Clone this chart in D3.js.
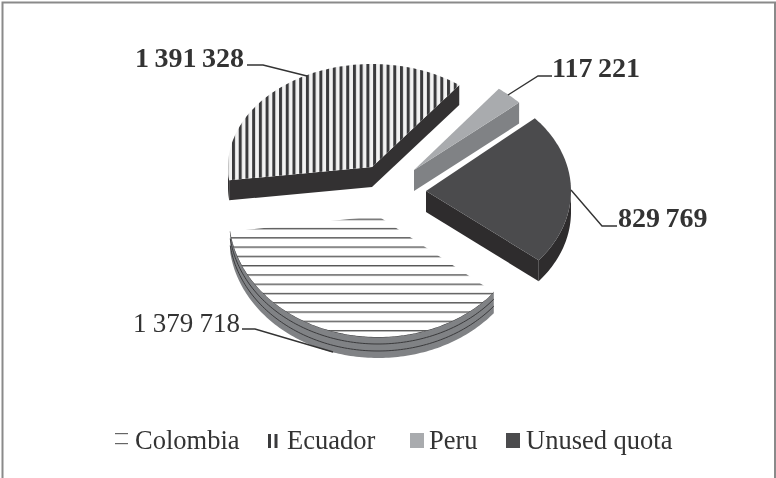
<!DOCTYPE html>
<html>
<head>
<meta charset="utf-8">
<script src="https://cdn.jsdelivr.net/npm/d3@7"></script>
<style>
html,body{margin:0;padding:0;background:#fff;}
svg{display:block;filter:blur(0.55px);}
text{font-family:"Liberation Serif",serif;fill:#333;}
</style>
</head>
<body>
<script>
// ---- data ----
const categories = ["Colombia", "Ecuador", "Peru", "Unused quota"];
const values = [1379718, 1391328, 117221, 829769];
const valueLabels = ["1 379 718", "1 391 328", "117 221", "829 769"];
const labelBold = [false, true, true, true];

// ---- layout ----
const W = 776, H = 478;
const firstSliceDeg = 129;
const depth = [21, 20, 21, 21];
const sliceCx = [378, 372, 414, 426];
const sliceCy = [216, 167, 170, 191];
const sliceRx = [149, 144, 140, 145];
const sliceRy = [121, 103, 102, 110];
const topFills = ["url(#hatchH)", "url(#hatchV)", "#a9abae", "#4b4b4d"];
const sideFills = ["#808285", "#333132", "#808285", "#2e2c2d"];
const drawOrder = [1, 2, 3, 0];
// which radial edges show a wall: [start edge, end edge]
const radialWalls = [[false, false], [true, true], [false, true], [false, true]];
const labelX = [133, 135, 552, 618];
const labelY = [332, 67, 77, 227];
const labelSize = [27, 28, 28, 28];
const labelWordSpacing = [-0.5, -1.5, -1.5, -1.5];
const leaders = [
  [[242, 329], [255, 329], [333, 352]],
  [[247, 65], [263, 65], [307, 76]],
  [[552, 76], [538, 76], [508, 95]],
  [[617, 226], [602, 226], [571, 190]]
];
const legendTextX = [135, 287, 429, 526];
const legendMarkX = [115, 268, 410, 506];
const legendBaseline = 449;

const svg = d3.select("body").append("svg").attr("width", W).attr("height", H);
const defs = svg.append("defs");
const ph = defs.append("pattern").attr("id", "hatchH").attr("patternUnits", "userSpaceOnUse")
  .attr("x", 0).attr("y", 218.6).attr("width", 40).attr("height", 9.28);
ph.append("rect").attr("width", 40).attr("height", 9.28).attr("fill", "#fff");
ph.append("rect").attr("width", 40).attr("height", 1.4).attr("fill", "#555");
const pv = defs.append("pattern").attr("id", "hatchV").attr("patternUnits", "userSpaceOnUse")
  .attr("x", 232).attr("y", 0).attr("width", 6.72).attr("height", 40);
pv.append("rect").attr("width", 6.72).attr("height", 40).attr("fill", "#f2f2f2");
pv.append("rect").attr("width", 3).attr("height", 40).attr("fill", "#3a3a3c");

svg.append("rect").attr("width", W).attr("height", H).attr("fill", "#fff");
const line = d3.line();
svg.append("path").attr("d", line([[775, H], [775, 2.5], [2.5, 2.5], [2.5, H]]))
  .attr("fill", "none").attr("stroke", "#8a8a8a").attr("stroke-width", 2);

const rad = d3.scaleLinear().domain([0, 360]).range([0, 2 * Math.PI]);
const pie = d3.pie().sort(null).startAngle(rad(firstSliceDeg)).endAngle(rad(firstSliceDeg + 360));
const arcs = pie(values);

function pt(i, a, dz) {
  return [sliceCx[i] + sliceRx[i] * Math.sin(a), sliceCy[i] - sliceRy[i] * Math.cos(a) + (dz || 0)];
}
function samples(a0, a1) {
  const n = Math.max(2, Math.ceil((a1 - a0) / 0.02));
  return d3.range(n + 1).map(k => a0 + (a1 - a0) * k / n);
}
const apex = (i, dz) => [sliceCx[i], sliceCy[i] + (dz || 0)];

drawOrder.forEach(i => {
  const d = arcs[i], z = depth[i], g = svg.append("g");
  const s = d.startAngle, e = d.endAngle;
  // radial walls that face the viewer
  [s, e].forEach((a, k) => {
    if (radialWalls[i][k]) {
      g.append("path").attr("fill", sideFills[i])
        .attr("d", line([apex(i), pt(i, a), pt(i, a, z), apex(i, z)]) + "Z");
    }
  });
  // outer wall: only the part of the rim on the near side (cos < 0)
  const ss = samples(s, e).filter(a => Math.cos(a) <= 0);
  if (ss.length > 1) {
    g.append("path").attr("fill", sideFills[i])
      .attr("d", line(ss.map(a => pt(i, a)).concat(ss.slice().reverse().map(a => pt(i, a, z)))) + "Z");
    if (i === 0) {
      [0, 7, 14].forEach(o => g.append("path").attr("fill", "none").attr("stroke", "#3a3a3c")
        .attr("stroke-width", 1).attr("d", line(ss.map(a => pt(i, a, o)))));
    }
  }
  // top face
  g.append("path").attr("fill", topFills[i])
    .attr("d", line([apex(i)].concat(samples(s, e).map(a => pt(i, a)))) + "Z");
});

// leader lines
leaders.forEach(l => svg.append("path").attr("d", line(l)).attr("fill", "none")
  .attr("stroke", "#333").attr("stroke-width", 1.4));

// value labels
valueLabels.forEach((t, i) => svg.append("text").attr("x", labelX[i]).attr("y", labelY[i])
  .attr("font-size", labelSize[i]).attr("word-spacing", labelWordSpacing[i])
  .attr("font-weight", labelBold[i] ? "bold" : "normal").text(t));

// legend
categories.forEach((c, i) => {
  svg.append("text").attr("x", legendTextX[i]).attr("y", legendBaseline).attr("font-size", 26.5).text(c);
  const x = legendMarkX[i];
  const m = svg.append("g");
  if (i === 0) {
    [433, 443].forEach(y => m.append("rect").attr("x", x).attr("y", y).attr("width", 13).attr("height", 1.2).attr("fill", "#666"));
  } else if (i === 1) {
    [0, 6.5].forEach(o => m.append("rect").attr("x", x + o).attr("y", 434).attr("width", 3).attr("height", 14).attr("fill", "#3a3a3c"));
  } else {
    m.append("rect").attr("x", x).attr("y", 433).attr("width", 14).attr("height", 15).attr("fill", topFills[i]);
  }
});
</script>
</body>
</html>
